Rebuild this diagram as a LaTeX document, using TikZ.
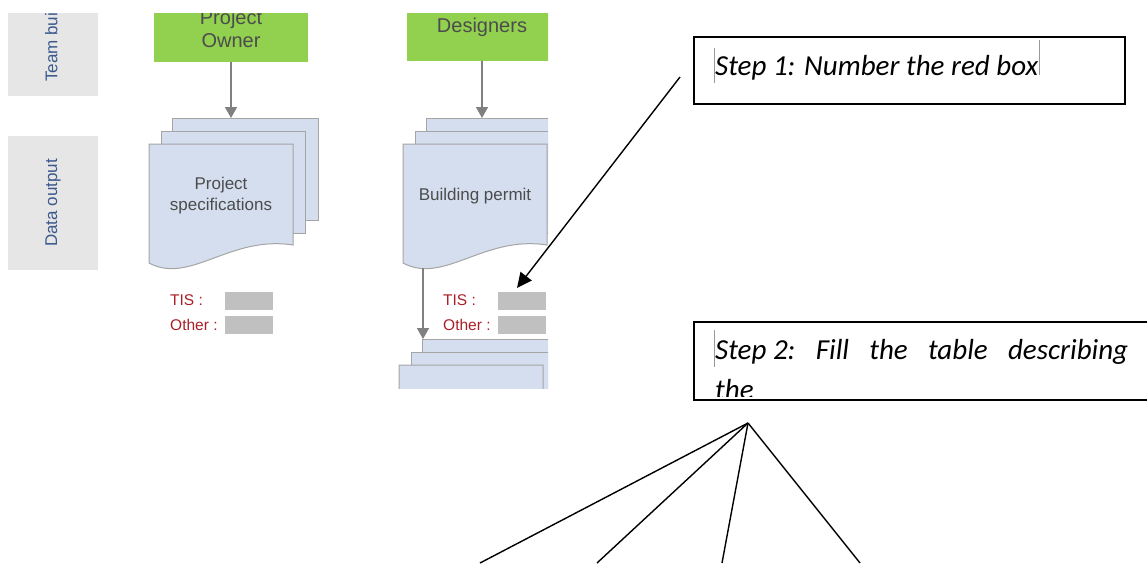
\documentclass[tikz,border=0pt]{standalone}
\usepackage{graphicx}
\usepackage{fontspec}
\setmainfont{Liberation Sans}
\newfontfamily\notefont{Carlito}
\usetikzlibrary{arrows.meta, positioning}

\definecolor{teamgreen}{RGB}{146,208,80}
\definecolor{pageblue}{RGB}{212,222,238}
\definecolor{pageedge}{RGB}{165,165,165}
\definecolor{lanegrey}{RGB}{230,230,230}
\definecolor{lanetext}{RGB}{59,89,140}
\definecolor{tisred}{RGB}{170,30,40}
\definecolor{fieldgrey}{RGB}{192,192,192}

\tikzset{
  lane/.style={fill=lanegrey, minimum width=90pt, text=lanetext, font=\fontsize{17}{20}\selectfont},
  team/.style={fill=teamgreen, minimum width=154pt, minimum height=67pt, align=center, text=black!70, font=\fontsize{20}{23}\selectfont},
  page/.style={draw=pageedge, fill=pageblue, line width=1pt},
  flow/.style={draw=black!50, line width=1.5pt, -{Triangle[length=11pt,width=12pt]}},
  field/.style={fill=fieldgrey, minimum width=48pt, minimum height=18pt, anchor=west},
  fieldlbl/.style={text=tisred, font=\fontsize{15.5}{18}\selectfont, anchor=west, inner sep=0pt},
  stepbox/.style={draw, line width=1.5pt},
  note/.style={font=\notefont\itshape\fontsize{29}{35}\selectfont, inner sep=0pt},
  pointer/.style={line width=1.4pt},
  caret/.style={draw=black!40, line width=0.6pt}
}

% three stacked pages, the front one with a wavy foot
% #1 name, #2/#3 top left of the front page, #4 text
\newcommand{\pagestack}[4]{
  \node[page, minimum width=146pt, minimum height=102pt, anchor=north west, inner sep=0pt] (#1-back) at (#2+23,#3-26) {};
  \node[page, minimum width=144pt, minimum height=102pt, anchor=north west, inner sep=0pt] (#1-mid) at (#2+12,#3-13) {};
  \path[page] (#2,#3) -- (#2+144,#3) -- (#2+144,#3+101)
    .. controls (#2+81,#3+91) and (#2+41,#3+141) .. (#2,#3+119) -- cycle;
  \node[align=center, text=black!70, font=\fontsize{17}{21}\selectfont] (#1) at (#2+72,#3+52) {#4};
  \coordinate (#1-foot) at (#2+20,#3+124);
}

\begin{document}
\begin{tikzpicture}[x=1pt, y=-1pt, >=Stealth]
\useasboundingbox (0,0) rectangle (1147,563);

% left pane, cut like a screenshot
\begin{scope}
  \clip (0,13) rectangle (548,388);
  \node[lane, minimum height=133pt] (teamlane) at (53,29.5) {};
  \node[text=lanetext, font=\fontsize{17}{20}\selectfont, anchor=west, rotate=90, inner sep=0pt] (teamtxt) at (53,82) {Team building};
  \node[lane, minimum height=134pt] (datalane) at (53,203) {\rotatebox{90}{Data output}};

  \node[team] (owner) at (231,28.5) {Project\\Owner};
  \node[team, minimum width=150pt] (designers) at (482,27.5) {Designers};

  \pagestack{spec}{149}{144}{Project\\specifications}
  \pagestack{permit}{403}{144}{Building permit}
  \pagestack{next}{399}{365}{}

  \draw[flow] (owner) -- (owner |- spec-back.north);
  \draw[flow] (designers) -- (designers |- permit-back.north);
  \draw[flow] (permit-foot) -- (permit-foot |- next-back.north);

  % fields under each document
  \node[fieldlbl] (spec-tis) at (170,300) {TIS :};
  \node[field] (spec-tisbox) at (225,300.5) {};
  \node[fieldlbl] (spec-oth) at (170,325) {Other :};
  \node[field] (spec-othbox) at (225,325) {};
  \node[fieldlbl] (permit-tis) at (443,300) {TIS :};
  \node[field] (permit-tisbox) at (498,300.5) {};
  \node[fieldlbl] (permit-oth) at (443,325) {Other :};
  \node[field] (permit-othbox) at (498,325) {};
\end{scope}

% step 1
\node[stepbox, minimum width=431pt, minimum height=67pt, anchor=north west] (step1) at (693,36) {};
\node[note, anchor=base west] (step1txt) at (715,75) {Step 1: Number the red box};
\draw[caret] (714,48) -- (714,83);
\draw[caret] (step1txt.east) ++(1,-27) -- ++(0,35);
\coordinate (step1tail) at (680,77);
\coordinate (step1head) at (517,288);
\draw[pointer, -{Triangle[length=15pt,width=14pt]}] (step1tail) -- (step1head);

% step 2
\node[stepbox, minimum width=480pt, minimum height=78pt, anchor=north west] (step2) at (693,321) {};
\begin{scope}
  \clip (693,321) rectangle (1147,396);
  \node[note, anchor=base west] (step2txt) at (715,359) {\makebox[413pt][s]{\mbox{Step 2:} Fill the table describing}};
  \node[note, anchor=base west] (step2more) at (715,399) {the};
\end{scope}
\draw[caret] (714,330) -- (714,367);

% fan out to the table
\coordinate (fan) at (748,423);
\coordinate (fan-a) at (480,563);
\coordinate (fan-b) at (597,563);
\coordinate (fan-c) at (722,563);
\coordinate (fan-d) at (860,563);
\foreach \t in {a,b,c,d}
  \draw[pointer] (fan) -- (fan-\t);
\end{tikzpicture}
\end{document}
